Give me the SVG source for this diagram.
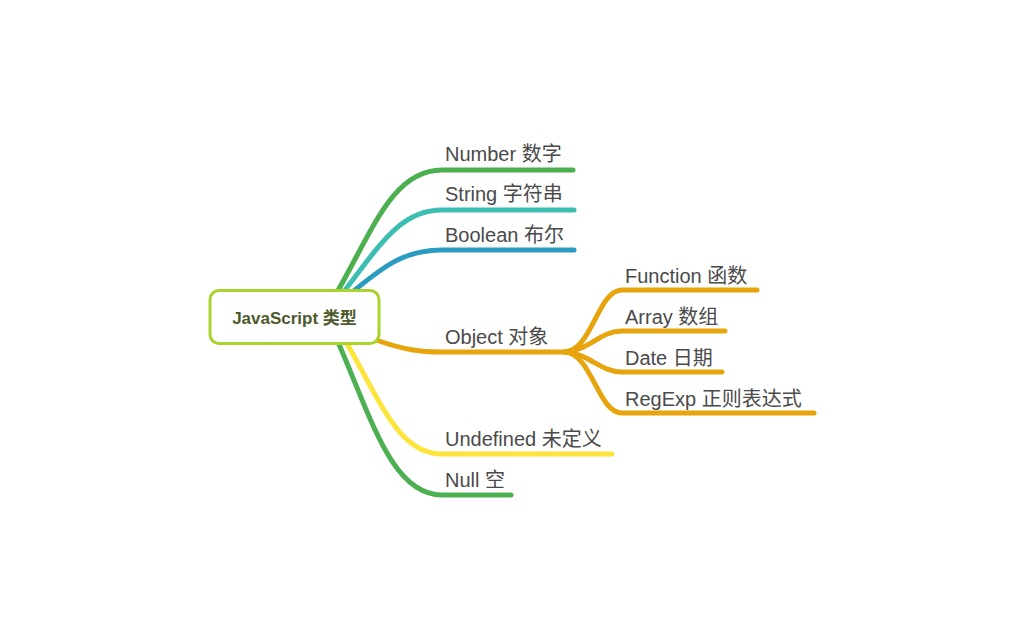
<svg xmlns="http://www.w3.org/2000/svg" width="1024" height="633" viewBox="0 0 1024 633">
<style>
.l{fill:none;stroke-width:5;stroke-linecap:round;stroke-linejoin:round}
.t{font-family:"Liberation Sans","Noto Sans CJK SC",sans-serif;font-size:20px;fill:#4a4a4a}
.root{font-family:"Liberation Sans","Noto Sans CJK SC",sans-serif;font-size:17px;font-weight:bold;fill:#4d5a2c}
</style>
<rect width="1024" height="633" fill="#ffffff"/>
<g id="connectors">
<path class="l" stroke="#4caf50" d="M336 294 C372 232 392 170 442 170 L573 170"/>
<path class="l" stroke="#3dbeb2" d="M342 294 C380 245 400 210 442 210 L574 210"/>
<path class="l" stroke="#2a9cc0" d="M350 294 C385 265 405 250 442 250 L574 250"/>
<path class="l" stroke="#e8a40c" d="M376 340 C405 350 420 352 442 352 L565 352"/>
<path class="l" stroke="#e8a40c" d="M565 352 C592 350 598 290 622 290 L757 290"/>
<path class="l" stroke="#e8a40c" d="M565 352 C590 350 600 331 622 331 L725 331"/>
<path class="l" stroke="#e8a40c" d="M565 352 C590 354 600 372 622 372 L722 372"/>
<path class="l" stroke="#e8a40c" d="M565 352 C592 354 598 413 622 413 L814 413"/>
<path class="l" stroke="#fde43a" d="M346 342 C380 400 398 454 442 454 L612 454"/>
<path class="l" stroke="#4caf50" d="M338 342 C372 420 392 495 442 495 L511 495"/>
</g>
<g id="root">
<rect x="210" y="290.5" width="169" height="53" rx="9" fill="#ffffff" stroke="#a8d42c" stroke-width="3"/>
<text class="root" x="294.5" y="323.5" text-anchor="middle">JavaScript 类型</text>
</g>
<g id="n-number"><text class="t" x="445" y="161">Number 数字</text></g>
<g id="n-string"><text class="t" x="445" y="201">String 字符串</text></g>
<g id="n-boolean"><text class="t" x="445" y="242">Boolean 布尔</text></g>
<g id="n-object"><text class="t" x="445" y="344">Object 对象</text></g>
<g id="n-function"><text class="t" x="625" y="283">Function 函数</text></g>
<g id="n-array"><text class="t" x="625" y="324">Array 数组</text></g>
<g id="n-date"><text class="t" x="625" y="365">Date 日期</text></g>
<g id="n-regexp"><text class="t" x="625" y="406">RegExp 正则表达式</text></g>
<g id="n-undefined"><text class="t" x="445" y="446">Undefined 未定义</text></g>
<g id="n-null"><text class="t" x="445" y="487">Null 空</text></g>
</svg>
